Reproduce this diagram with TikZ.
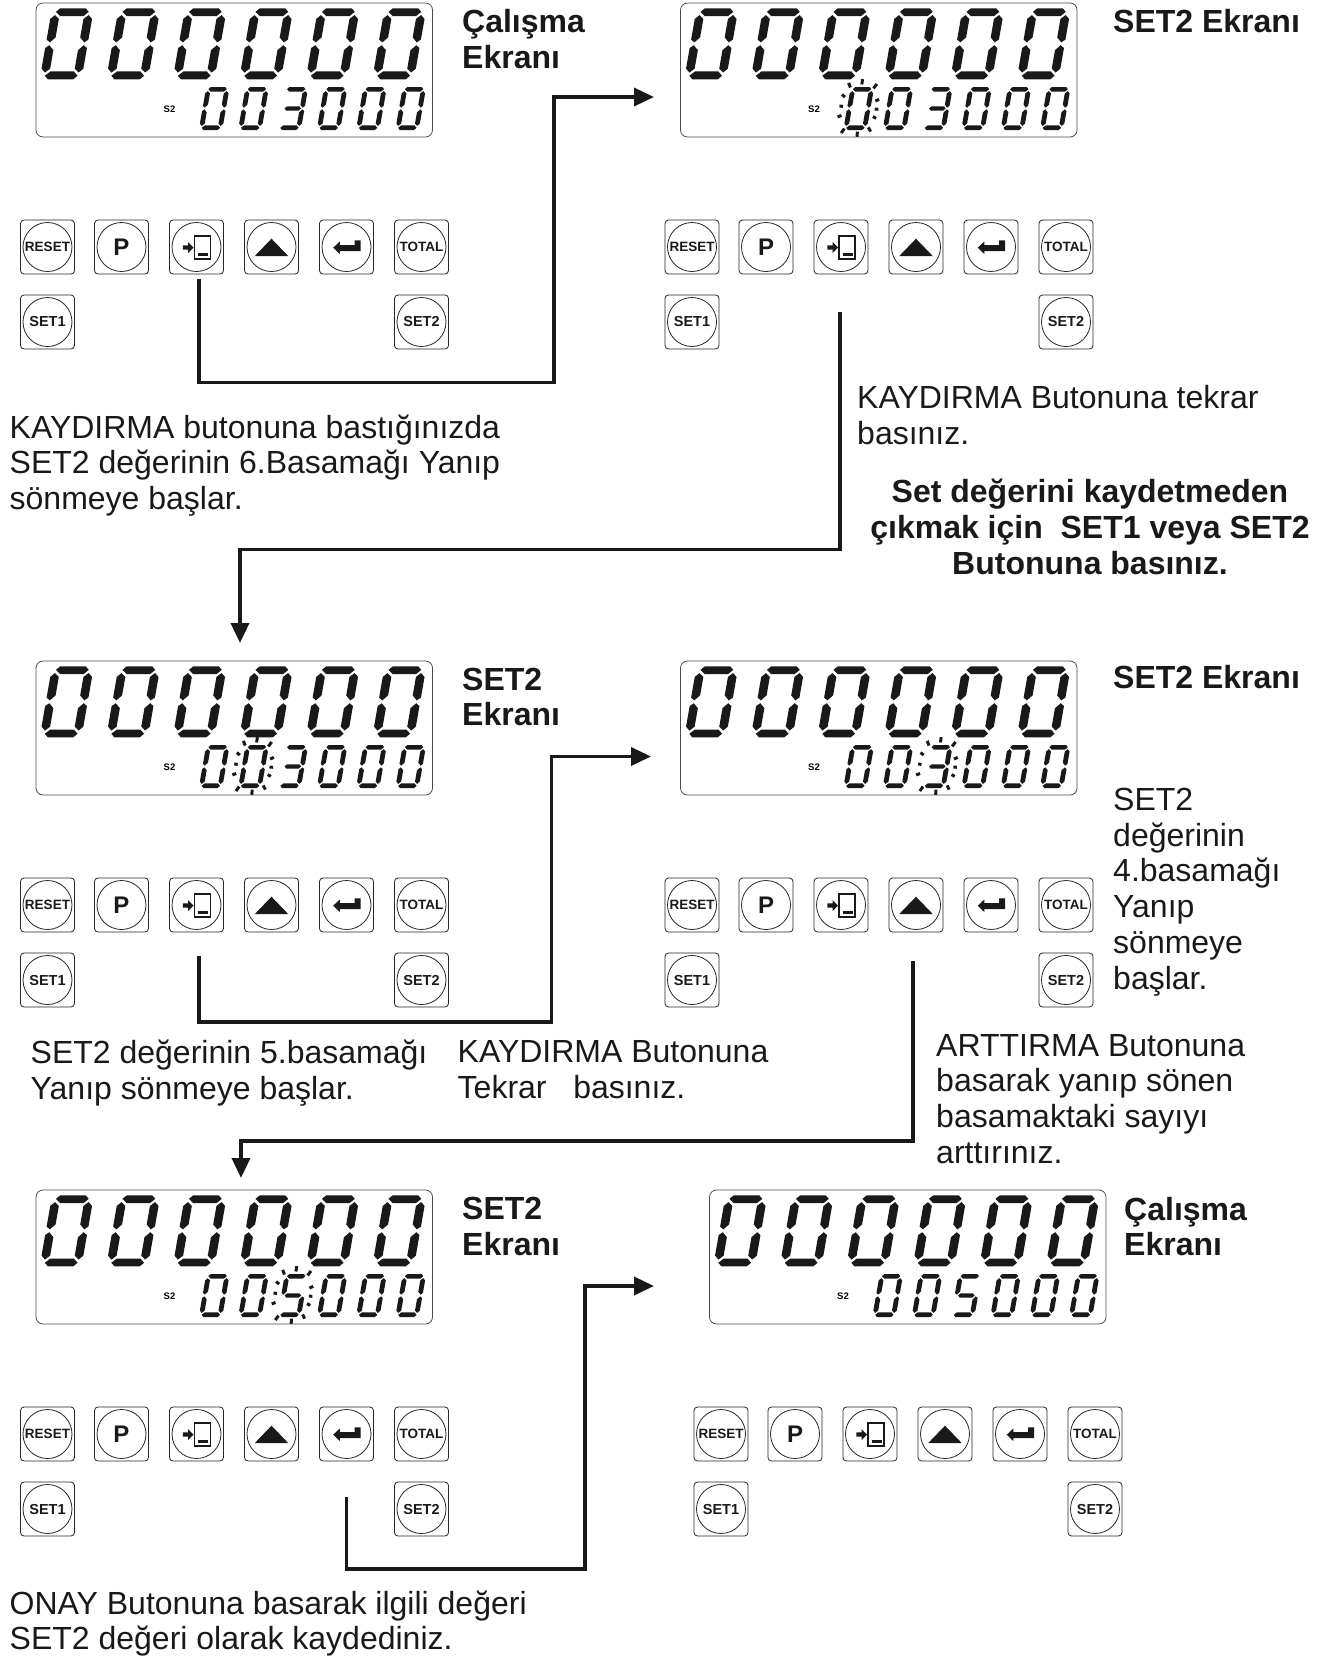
\documentclass[tikz,border=0pt]{standalone}
\usepackage{fontspec}
\setmainfont{Liberation Sans}
\usetikzlibrary{arrows.meta,positioning}
% seven segment pieces, unit box 10 x 20
\newcommand{\segA}{(1.9,0) -- (8.1,0) -- (9,1) -- (7.9,2.2) -- (2.2,2.2) -- (1,1) -- cycle}
\newcommand{\segB}{(9.1,1.9) -- (8,3) -- (8,8.2) -- (9.2,9.6) -- (10.1,8.8) -- (10.1,3) -- cycle}
\newcommand{\segC}{(9.1,18.1) -- (8,17) -- (8,11.8) -- (9.2,10.4) -- (10.1,11.2) -- (10.1,17) -- cycle}
\newcommand{\segD}{(1.9,20) -- (8.1,20) -- (9,19) -- (7.9,17.8) -- (2.2,17.8) -- (1,19) -- cycle}
\newcommand{\segE}{(.9,18.1) -- (2,17) -- (2,11.8) -- (.8,10.4) -- (-.1,11.2) -- (-.1,17) -- cycle}
\newcommand{\segF}{(.9,1.9) -- (2,3) -- (2,8.2) -- (.8,9.6) -- (-.1,8.8) -- (-.1,3) -- cycle}
\newcommand{\segG}{(1.4,10) -- (2.3,9) -- (7.7,9) -- (8.6,10) -- (7.7,11) -- (2.3,11) -- cycle}
\tikzset{
    digit0/.style={insert path={\segA \segB \segC \segD \segE \segF}},
    digit3/.style={insert path={\segA \segB \segC \segD \segG}},
    digit5/.style={insert path={\segA \segF \segG \segC \segD}},
    lcdbox/.style={draw=black!70, line width=.8pt, rounded corners=7pt},
    btnbox/.style={draw=black!85, line width=.8pt, rounded corners=3.5pt, minimum size=54pt, inner sep=0pt},
    btncirc/.style={draw=black!85, circle, line width=.8pt, minimum size=49pt, inner sep=0pt, text=black!90},
    btnsmall/.style={btncirc, font=\fontsize{13.5}{13.5}\selectfont\bfseries},
    btnset/.style={btncirc, font=\fontsize{14.5}{14.5}\selectfont\bfseries},
    blinkray/.style={line width=3pt, black!90},
    flowline/.style={-{Triangle[length=20pt,width=18pt]}, line width=3.6pt, black!90},
    bodytext/.style={anchor=west, align=left, inner sep=0pt, font=\fontsize{32}{35.8}\selectfont, text=black!90},
    titletext/.style={bodytext, font=\fontsize{32}{35.8}\selectfont\bfseries},
    pics/lcdpanel/.style 2 args={code={
        % --- LCD window ---
        \draw[lcdbox] (36,3) rectangle (432.5,137);
        \foreach \i in {1,...,6}
            \fill[black!90, shift={({52.5+(\i-1)*66.5},8.3)}, xslant=.175, xscale=4.1, yscale=3.55, digit0];
        \foreach \d [count=\i] in {#1}
            \fill[black!90, shift={({206.5+(\i-1)*39.3},87)}, xslant=.175, xscale=2.3, yscale=2.15, digit\d];
        \node[font=\fontsize{9.5}{9.5}\selectfont\bfseries] (s2) at (169.5,109) {S2};
        \ifnum#2>0
        \foreach \ox/\oy in {3.7/-26.7,16.7/-22.3,18.7/-8.3,18/.7,16/9,11/21,-1.3/25.7,-15.7/22.3,-19/7.7,-17.3/-2.3,-15/-12.7,-9/-23.3}
            \draw[blinkray, shift={({214+(#2-1)*39.3},108.5)}] (\ox*.9,\oy*.9) -- (\ox*1.1,\oy*1.1);
        \fi
        % --- buttons ---
        \foreach \bname/\bx/\by in {reset/47.5/247,prog/121.5/247,shift/196.5/247,up/271.5/247,enter/346.5/247,total/421.5/247,setone/47.5/322,settwo/421.5/322}
            \node[btnbox] (\bname) at (\bx,\by) {};
        \node[btnsmall] (resettext) at (reset) {RESET};
        \node[btncirc, font=\fontsize{24}{24}\selectfont\bfseries] (progtext) at (prog) {P};
        \node[btncirc] (shiftcirc) at (shift) {};
        \node[btncirc] (upcirc) at (up) {};
        \node[btncirc] (entercirc) at (enter) {};
        \node[btnsmall] (totaltext) at (total) {TOTAL};
        \node[btnset] (setonetext) at (setone) {SET1};
        \node[btnset] (settwotext) at (settwo) {SET2};
        \draw[black!90, line width=1.9pt, shift={(196.5,247)}] (-2,-11) rectangle (14,12);
        \draw[black!90, line width=2.2pt, shift={(196.5,247)}] (1.5,7.5) -- (11.5,7.5);
        \fill[black!90, shift={(196.5,247)}] (-13.7,-1.6) -- (-8.5,-1.6) -- (-8.5,-5) -- (-3,.5) -- (-8.5,6) -- (-8.5,2.6) -- (-13.7,2.6) -- cycle;
        \fill[black!90, shift={(271.5,247)}] (-16.7,9) -- (16.7,9) -- (0,-8.3) -- cycle;
        \fill[black!90, shift={(346.5,247)}] (-13.3,.7) -- (-6.7,-5.5) -- (-6.7,-2) -- (8,-2) -- (8,-6.7) -- (14,-6.7) -- (14,4) -- (-6.7,4) -- (-6.7,7) -- cycle;
    }},
}
\begin{document}
\begin{tikzpicture}[x=1pt, y=-1pt]
    \useasboundingbox (0,0) rectangle (1327,1657);

    % --- Panels --------------------------------------------------------------
    \pic (first) at (0,0) {lcdpanel={0,0,3,0,0,0}{0}};
    \pic (second) at (644.5,0) {lcdpanel={0,0,3,0,0,0}{1}};
    \pic (third) at (0,658) {lcdpanel={0,0,3,0,0,0}{2}};
    \pic (fourth) at (644.5,658) {lcdpanel={0,0,3,0,0,0}{3}};
    \pic (fifth) at (0,1187) {lcdpanel={0,0,5,0,0,0}{3}};
    \pic (sixth) at (673.5,1187) {lcdpanel={0,0,5,0,0,0}{0}};

    % --- Titles ---------------------------------------------------------------
    \node[titletext] (titlefirst) at (462,39) {Çalışma\\Ekranı};
    \node[titletext] (titlesecond) at (1113,21) {SET2 Ekranı};
    \node[titletext] (titlethird) at (462,697) {SET2\\Ekranı};
    \node[titletext] (titlefourth) at (1113,677) {SET2 Ekranı};
    \node[titletext] (titlefifth) at (462,1226.5) {SET2\\Ekranı};
    \node[titletext] (titlesixth) at (1124,1226.5) {Çalışma\\Ekranı};

    % --- Notes ----------------------------------------------------------------
    \node[bodytext] (notefirst) at (9.5,465.5) {KAYDIRMA butonuna bastığınızda\\SET2 değerinin 6.Basamağı Yanıp\\sönmeye başlar.};
    \node[bodytext] (notesecond) at (857,415) {KAYDIRMA Butonuna tekrar\\basınız.};
    \node[titletext, anchor=center, align=center] (notewarn) at (1090,527) {Set değerini kaydetmeden\\çıkmak için\ \ SET1 veya SET2\\Butonuna basınız.};
    \node[bodytext] (notefifth) at (30.5,1073) {SET2 değerinin 5.basamağı\\Yanıp sönmeye başlar.};
    \node[bodytext] (notethird) at (457.5,1069.5) {KAYDIRMA Butonuna\\Tekrar\ \ \ basınız.};
    \node[bodytext] (notefourth) at (1113,892) {SET2\\değerinin\\4.basamağı\\Yanıp\\sönmeye\\başlar.};
    \node[bodytext] (noteup) at (936,1099) {ARTTIRMA Butonuna\\basarak yanıp sönen\\basamaktaki sayıyı\\arttırınız.};
    \node[bodytext] (noteenter) at (9.5,1623.5) {ONAY Butonuna basarak ilgili değeri\\SET2 değeri olarak kaydediniz.};

    % --- Flow arrows ----------------------------------------------------------
    \coordinate (startone) at (199,279);
    \coordinate (bendone) at (554,382.5);
    \coordinate (endone) at (654,97);
    \draw[flowline] (startone) |- (bendone) |- (endone);

    \coordinate (starttwo) at (840,312);
    \coordinate (bendtwo) at (240,549.5);
    \coordinate (endtwo) at (240,643);
    \draw[flowline] (starttwo) |- (bendtwo) -- (endtwo);

    \coordinate (startthree) at (199,956);
    \coordinate (bendthree) at (551.5,1022);
    \coordinate (endthree) at (651,756.5);
    \draw[flowline] (startthree) |- (bendthree) |- (endthree);

    \coordinate (startfour) at (913,961);
    \coordinate (bendfour) at (241,1141);
    \coordinate (endfour) at (241,1178);
    \draw[flowline] (startfour) |- (bendfour) -- (endfour);

    \coordinate (startfive) at (346.5,1497);
    \coordinate (bendfive) at (585,1569);
    \coordinate (endfive) at (654,1286);
    \draw[flowline] (startfive) |- (bendfive) |- (endfive);

\end{tikzpicture}
\end{document}
